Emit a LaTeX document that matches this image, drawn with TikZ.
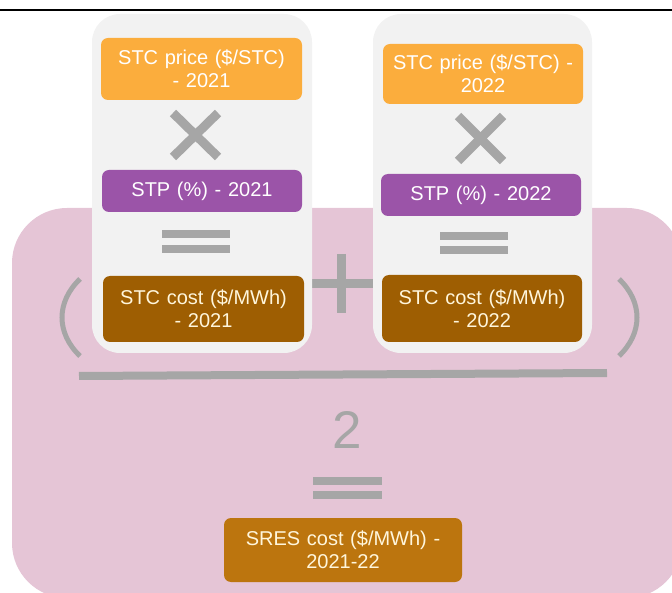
\documentclass[tikz,border=0pt]{standalone}
\usepackage{fontspec}
\setmainfont{Liberation Sans}
\definecolor{pinkbg}{RGB}{229,197,214}
\definecolor{panelgray}{RGB}{242,242,242}
\definecolor{symgray}{RGB}{166,166,166}
\definecolor{orangebox}{RGB}{251,173,61}
\definecolor{purplebox}{RGB}{155,84,168}
\definecolor{brownbox}{RGB}{158,94,2}
\definecolor{sresbox}{RGB}{188,117,14}
\definecolor{creamtext}{RGB}{255,246,220}
\begin{document}
\begin{tikzpicture}[x=1pt,y=-1pt,
  box/.style={rounded corners=7pt, inner sep=0pt, align=center,
    font=\fontsize{20}{23}\selectfont},
  boxsize/.style 2 args={text width=#1pt, minimum height=#2pt},
  pricebox/.style={box, fill=orangebox, text=white},
  stpbox/.style={box, fill=purplebox, text=white},
  costbox/.style={box, fill=brownbox, text=creamtext},
  sresnode/.style={box, fill=sresbox, text=creamtext},
  panel/.style={fill=panelgray, rounded corners=28pt},
  opline/.style={draw=symgray, line width=9pt},
  eqbar/.style={fill=symgray},
  parenline/.style={draw=symgray, line width=5pt}]
\useasboundingbox (0,0) rectangle (672,593);

% pink background for the averaging formula (runs past the right and bottom edges)
\begin{scope}
\clip (0,0) rectangle (672,593);
\fill[pinkbg, rounded corners=55pt] (12,208) rectangle (682,598);
\end{scope}

% top rule
\draw[line width=2.5pt] (0,10) -- (672,10);

% plus sign between the two panels
\draw[opline] (341.5,254) -- (341.5,313);
\draw[opline] (312,283.5) -- (373,283.5);

% parentheses and fraction bar
\draw[parenline] (80,279) .. controls (56,302) and (56,333) .. (80,356);
\draw[parenline] (619,279) .. controls (643,302) and (643,333) .. (619,356);
\draw[symgray, line width=8pt] (79,376) -- (607,373);

% year panels
\fill[panel] (92,14) rectangle (312,353);
\fill[panel] (373,14) rectangle (592,353);

% 2021 column
\node[pricebox, boxsize={201}{62}] (priceA) at (201.5,69) {STC price (\$/STC)\\- 2021};
\draw[opline] (173,113) -- (218,157);
\draw[opline] (173,157) -- (218,113);
\node[stpbox, boxsize={200}{42}] (stpA) at (202,191) {STP (\%) - 2021};
\fill[eqbar] (162,230) rectangle (230,238);
\fill[eqbar] (162,245) rectangle (230,253);
\node[costbox, boxsize={201}{66}] (costA) at (203.5,309) {STC cost (\$/MWh)\\- 2021};

% 2022 column
\node[pricebox, boxsize={200}{60}] (priceB) at (483,74) {STC price (\$/STC) -\\2022};
\draw[opline] (458,116) -- (503,161);
\draw[opline] (458,161) -- (503,116);
\node[stpbox, boxsize={200}{42}] (stpB) at (481,195) {STP (\%) - 2022};
\fill[eqbar] (440,232) rectangle (508,240);
\fill[eqbar] (440,246) rectangle (508,254);
\node[costbox, boxsize={200}{67}] (costB) at (482,308.5) {STC cost (\$/MWh)\\- 2022};

% divisor and result
\node[text=symgray, inner sep=0pt, anchor=base, font=\fontsize{53}{60}\selectfont] (two) at (347.5,448) {2};
\fill[eqbar] (313,477) rectangle (382,485);
\fill[eqbar] (313,491) rectangle (382,499);
\node[sresnode, boxsize={238}{64}] (sres) at (343,550) {SRES cost (\$/MWh) -\\2021-22};
\end{tikzpicture}
\end{document}
